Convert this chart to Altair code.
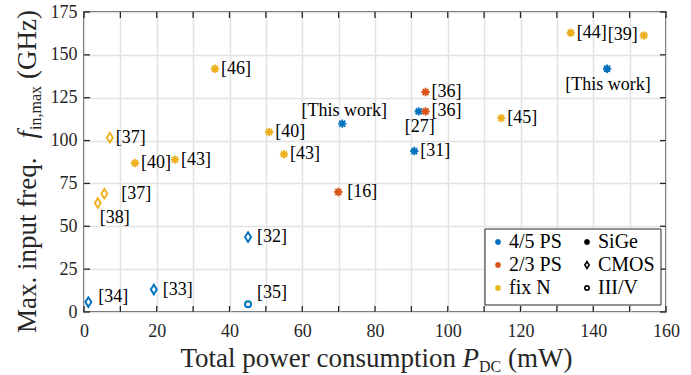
import altair as alt
import pandas as pd

# ---------------- data ----------------
power = [71.0, 143.8, 92.0, 90.8, 45.1, 19.2, 1.2, 45.1,
         93.9, 93.9, 69.9,
         36.0, 7.1, 14.0, 25.0, 50.9, 55.0, 5.6, 3.8, 114.7, 133.8, 153.9]
freq = [109.9, 141.9, 117.0, 93.9, 43.7, 13.1, 5.8, 4.5,
        128.3, 117.0, 70.0,
        141.9, 101.7, 86.9, 88.9, 105.0, 92.0, 69.0, 63.6, 113.1, 162.9, 161.3]
ratio = ["4/5 PS"] * 8 + ["2/3 PS"] * 3 + ["fix N"] * 11
tech = ["SiGe", "SiGe", "SiGe", "SiGe", "CMOS", "CMOS", "CMOS", "III/V",
        "SiGe", "SiGe", "SiGe",
        "SiGe", "CMOS", "SiGe", "SiGe", "SiGe", "SiGe", "CMOS", "CMOS", "SiGe", "SiGe", "SiGe"]
ref = ["[This work]", "[This work]", "[27]", "[31]", "[32]", "[33]", "[34]", "[35]",
       "[36]", "[36]", "[16]",
       "[46]", "[37]", "[40]", "[43]", "[40]", "[43]", "[37]", "[38]", "[45]", "[44]", "[39]"]
place = ["above", "below", "below", "right", "right_wide", "right_wide", "up_right", "high_right",
         "right", "right", "right_wide",
         "right", "right", "right", "right", "right", "right", "far_right", "below_right",
         "right", "right", "left"]

ratio_order = ["4/5 PS", "2/3 PS", "fix N"]
ratio_colors = ["#0072BD", "#D95319", "#EDB120"]
tech_order = ["SiGe", "CMOS", "III/V"]

x_ticks = [0, 10, 20, 30, 40, 50, 60, 70, 80, 90, 100, 110, 120, 130, 140, 150, 160]
y_ticks = [0, 25, 50, 75, 100, 125, 150, 175]

df = pd.DataFrame(dict(power=power, freq=freq, ratio=ratio, tech=tech, ref=ref, place=place))
xt = pd.DataFrame({"t": x_ticks})
yt = pd.DataFrame({"t": y_ticks})
one = pd.DataFrame({"k": [0]})

FONT = "Liberation Serif"
INK = "#262626"
# marker outlines (unit paths, scaled by the symbol size)
AST = "M-1,0L1,0M0,-1L0,1M-0.71,-0.71L0.71,0.71M-0.71,0.71L0.71,-0.71"
DIA = "M0,-1.15L0.72,0L0,1.15L-0.72,0Z"
CIR = "M0.72,0A0.72,0.72 0 1,1 -0.72,0A0.72,0.72 0 1,1 0.72,0Z"

W, H = 582, 300
xscale = alt.Scale(domain=[0, 160], nice=False, zero=False)
yscale = alt.Scale(domain=[0, 175], nice=False, zero=False)

xaxis = alt.Axis(values=x_ticks, labelExpr="datum.value % 20 === 0 ? datum.label : ''",
                 title=None, grid=True, ticks=False, domain=False, labelOverlap=False,
                 labelFlush=False, labelPadding=10)
yaxis = alt.Axis(values=y_ticks, title=None, grid=True, ticks=False, domain=False,
                 labelOverlap=False, labelFlush=False, labelPadding=7)

leg_common = dict(title=None, orient="none", legendY=220, rowPadding=3, padding=0,
                  labelOffset=1, labelFont=FONT, labelFontSize=20, labelColor="black",
                  symbolStrokeWidth=1.6, symbolSize=36)

points = alt.Chart(df).mark_point(filled=False, strokeWidth=1.9, opacity=1, size=70).encode(
    x=alt.X("power:Q", scale=xscale, axis=xaxis),
    y=alt.Y("freq:Q", scale=yscale, axis=yaxis),
    color=alt.Color("ratio:N", scale=alt.Scale(domain=ratio_order, range=ratio_colors),
                    legend=alt.Legend(legendX=404, symbolType=AST, **leg_common)),
    shape=alt.Shape("tech:N", scale=alt.Scale(domain=tech_order, range=[AST, DIA, CIR]),
                    legend=alt.Legend(legendX=493, symbolStrokeColor="black", **leg_common)),
)

placements = {
    "right": ("left", 6, 0),
    "right_wide": ("left", 9, 0),
    "left": ("right", -6, 0),
    "above": ("center", 2, -13),
    "below": ("center", 1, 16),
    "far_right": ("left", 17, 0),
    "below_right": ("left", 2, 15),
    "up_right": ("left", 10, -5),
    "high_right": ("left", 9, -11),
}
label_layers = []
for name, (al, dx, dy) in placements.items():
    label_layers.append(
        alt.Chart(df).transform_filter(alt.datum.place == name)
        .mark_text(align=al, dx=dx, dy=dy, baseline="middle", font=FONT, fontSize=18, color="black")
        .encode(x=alt.X("power:Q", scale=xscale, axis=xaxis),
                y=alt.Y("freq:Q", scale=yscale, axis=yaxis),
                text="ref:N")
    )

tick_style = dict(color=INK, strokeWidth=1.3)
xt_bot = alt.Chart(xt).mark_rule(**tick_style).encode(
    x=alt.X("t:Q", scale=xscale, axis=xaxis), y=alt.value(H), y2=alt.value(H - 6))
xt_top = alt.Chart(xt).mark_rule(**tick_style).encode(
    x=alt.X("t:Q", scale=xscale, axis=xaxis), y=alt.value(0), y2=alt.value(6))
yt_left = alt.Chart(yt).mark_rule(**tick_style).encode(
    y=alt.Y("t:Q", scale=yscale, axis=yaxis), x=alt.value(0), x2=alt.value(6))
yt_right = alt.Chart(yt).mark_rule(**tick_style).encode(
    y=alt.Y("t:Q", scale=yscale, axis=yaxis), x=alt.value(W), x2=alt.value(W - 6))

legend_box = alt.Chart(one).mark_rect(fill="white", stroke=INK, strokeWidth=1).encode(
    x=alt.value(401), x2=alt.value(577), y=alt.value(217), y2=alt.value(293))

TS = 27
SUB = 16


def piece(txt, x, y, size=TS, style="normal", angle=0, align="left"):
    return alt.Chart(one).mark_text(text=txt, font=FONT, fontSize=size, fontStyle=style,
                                    angle=angle, align=align, baseline="alphabetic",
                                    color=INK).encode(x=alt.value(x), y=alt.value(y))


xb = 355
x_title = [
    piece("Total power consumption", 372, xb, align="right"),
    piece("P", 378.5, xb, style="italic"),
    piece("DC", 395, xb + 5, size=SUB),
    piece("(mW)", 424, xb),
]
yb = -48
y_title = [
    piece("Max. input freq.", yb, 321, angle=270),
    piece("f", yb, 126.5, style="italic", angle=270),
    piece("in,max", yb + 5, 118, size=SUB, angle=270),
    piece("(GHz)", yb, 67, angle=270),
]

chart = alt.layer(
    points, xt_bot, xt_top, yt_left, yt_right, *label_layers, legend_box, *x_title, *y_title
).properties(
    width=W, height=H,
    autosize=alt.AutoSizeParams(type="none"),
    padding={"left": 84, "top": 12, "right": 25, "bottom": 63},
).configure_view(
    stroke=INK, strokeWidth=1.5
).configure_axis(
    gridColor="#e2e2e2", gridWidth=1.5, labelFont=FONT, labelFontSize=18, labelColor=INK
)

chart.save("out.html", embed_options={"renderer": "svg", "actions": False})
